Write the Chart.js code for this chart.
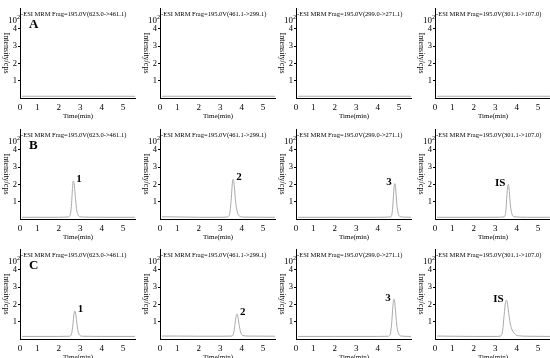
<!DOCTYPE html>
<html>
<head>
<meta charset="utf-8">
<script src="https://cdn.jsdelivr.net/npm/chart.js@4.4.0/dist/chart.umd.min.js"></script>
<style>
  html, body { margin: 0; padding: 0; background: #fff; overflow: hidden; }
  #wrap { position: relative; width: 550px; height: 358px; }
  .panel { position: absolute; }
</style>
</head>
<body>
<div id="wrap"></div>
<script>
// ---- data ----
const rowLetters = ["A", "B", "C"];
const transitions = ["623.0->461.1", "461.1->299.1", "299.0->271.1", "301.1->107.0"];
const xTickValues = [0.2, 1, 2, 3, 4, 5];
const xTickLabels = ["0", "1", "2", "3", "4", "5"];
const yTickValues = [1, 2, 3, 4];

// blank (row A)
const timesBlank = [0.3, 1.0, 2.0, 3.0, 4.0, 5.0, 5.55];
const intensBlank = [0.1, 0.1, 0.1, 0.1, 0.1, 0.1, 0.1];

// row B
const timesB1 = [0.3, 1.0, 2.0, 2.45, 2.55, 2.6, 2.64, 2.68, 2.72, 2.77, 2.83, 2.9, 3.0, 3.2, 4.0, 5.55];
const intensB1 = [0.1, 0.1, 0.1, 0.12, 0.3, 0.9, 1.7, 2.2, 2.05, 1.4, 0.6, 0.25, 0.13, 0.11, 0.1, 0.1];
const timesB2 = [0.3, 1.0, 2.0, 3.0, 3.35, 3.45, 3.52, 3.57, 3.61, 3.66, 3.72, 3.8, 3.9, 4.1, 5.0, 5.55];
const intensB2 = [0.13, 0.12, 0.1, 0.1, 0.12, 0.35, 1.2, 2.1, 2.3, 1.9, 1.0, 0.4, 0.17, 0.11, 0.1, 0.1];
const timesB3 = [0.3, 2.0, 4.0, 4.6, 4.68, 4.73, 4.77, 4.8, 4.84, 4.89, 4.95, 5.05, 5.2, 5.55];
const intensB3 = [0.1, 0.1, 0.1, 0.12, 0.4, 1.2, 1.9, 2.05, 1.75, 0.9, 0.35, 0.14, 0.11, 0.1];
const timesB4 = [0.3, 2.0, 3.0, 3.42, 3.5, 3.55, 3.59, 3.62, 3.66, 3.71, 3.78, 3.9, 4.5, 5.55];
const intensB4 = [0.1, 0.1, 0.1, 0.12, 0.5, 1.4, 1.95, 2.0, 1.6, 0.8, 0.3, 0.13, 0.1, 0.1];

// row C
const timesC1 = [0.3, 1.0, 2.0, 2.5, 2.6, 2.66, 2.71, 2.75, 2.79, 2.84, 2.9, 2.98, 3.1, 4.0, 5.55];
const intensC1 = [0.15, 0.15, 0.15, 0.16, 0.3, 0.8, 1.4, 1.62, 1.5, 1.0, 0.45, 0.22, 0.16, 0.15, 0.15];
const timesC2 = [0.3, 1.0, 2.0, 3.0, 3.55, 3.63, 3.69, 3.74, 3.78, 3.82, 3.88, 3.95, 4.05, 4.3, 5.55];
const intensC2 = [0.17, 0.17, 0.16, 0.16, 0.17, 0.35, 0.85, 1.3, 1.45, 1.35, 0.85, 0.4, 0.2, 0.17, 0.16];
const timesC3 = [0.3, 2.0, 4.0, 4.5, 4.6, 4.66, 4.71, 4.75, 4.79, 4.84, 4.9, 4.98, 5.1, 5.55];
const intensC3 = [0.15, 0.15, 0.15, 0.16, 0.35, 1.0, 1.9, 2.3, 2.2, 1.5, 0.7, 0.3, 0.17, 0.15];
const timesC4 = [0.3, 1.0, 2.0, 3.0, 3.25, 3.35, 3.42, 3.48, 3.53, 3.58, 3.64, 3.72, 3.82, 3.95, 4.15, 4.5, 5.55];
const intensC4 = [0.17, 0.16, 0.15, 0.15, 0.17, 0.5, 1.4, 2.1, 2.25, 2.0, 1.4, 0.8, 0.45, 0.25, 0.18, 0.16, 0.15];

const peakNames = ["1", "2", "3", "IS"];

const traces = [
  [[timesBlank, intensBlank], [timesBlank, intensBlank], [timesBlank, intensBlank], [timesBlank, intensBlank]],
  [[timesB1, intensB1], [timesB2, intensB2], [timesB3, intensB3], [timesB4, intensB4]],
  [[timesC1, intensC1], [timesC2, intensC2], [timesC3, intensC3], [timesC4, intensC4]]
];

// ---- layout ----
const FONT = '"Liberation Serif", "Times New Roman", serif';
const colLeft = [0, 140, 276, 415];
const rowTop = [2, 123, 243];
const panelW = 136, panelH = 118;
const labelSide = ["right", "right", "left", "left"];

const overlay = {
  id: "overlay",
  afterDraw(chart) {
    const o = chart.options.plugins.overlay;
    const ctx = chart.ctx, a = chart.chartArea;
    ctx.save();
    ctx.fillStyle = "#000";
    ctx.textBaseline = "middle";

    ctx.font = "6.5px " + FONT;
    ctx.textAlign = "left";
    ctx.fillText("-ESI MRM Frag=195.0V(" + o.transition + ")", a.left + 1, a.top + 6);

    ctx.font = "9px " + FONT;
    ctx.textAlign = "right";
    ctx.fillText("10", a.left - 3, a.top + 13);
    ctx.font = "6px " + FONT;
    ctx.textAlign = "left";
    ctx.fillText("2", a.left - 3, a.top + 9);

    ctx.save();
    ctx.translate(a.left - 14, (a.top + a.bottom) / 2);
    ctx.rotate(Math.PI / 2);
    ctx.font = "8px " + FONT;
    ctx.textAlign = "center";
    ctx.fillText("Intensity/cps", 0, 0);
    ctx.restore();

    if (o.letter) {
      ctx.font = "bold 13px " + FONT;
      ctx.textAlign = "left";
      ctx.fillText(o.letter, a.left + 9, a.top + 17);
    }

    if (o.peak) {
      const pts = chart.data.datasets[0].data;
      let top = pts[0];
      pts.forEach(p => { if (p.y > top.y) top = p; });
      const px = chart.scales.x.getPixelForValue(top.x);
      const py = chart.scales.y.getPixelForValue(top.y);
      ctx.font = "bold 11px " + FONT;
      if (o.side === "left") {
        ctx.textAlign = "right";
        ctx.fillText(o.peak, px - 3, py - 1);
      } else {
        ctx.textAlign = "left";
        ctx.fillText(o.peak, px + 3, py - 2);
      }
    }
    ctx.restore();
  }
};

const wrap = document.getElementById("wrap");

for (let r = 0; r < 3; r++) {
  for (let c = 0; c < 4; c++) {
    const cv = document.createElement("canvas");
    cv.className = "panel";
    cv.width = panelW;
    cv.height = panelH;
    cv.style.left = colLeft[c] + "px";
    cv.style.top = rowTop[r] + "px";
    cv.style.width = panelW + "px";
    cv.style.height = panelH + "px";
    wrap.appendChild(cv);

    const [ts, vs] = traces[r][c];
    const pts = ts.map((t, i) => ({ x: t, y: vs[i] }));

    new Chart(cv, {
      type: "line",
      data: {
        datasets: [{
          data: pts,
          borderColor: "#a9a9a9",
          borderWidth: 1,
          pointRadius: 0,
          fill: false,
          cubicInterpolationMode: "monotone"
        }]
      },
      options: {
        responsive: false,
        animation: false,
        devicePixelRatio: 1,
        layout: { padding: 0 },
        plugins: {
          legend: { display: false },
          tooltip: { enabled: false },
          overlay: {
            transition: transitions[c],
            letter: c === 0 ? rowLetters[r] : null,
            peak: r > 0 ? peakNames[c] : null,
            side: labelSide[c]
          }
        },
        scales: {
          x: {
            type: "linear",
            min: 0.2,
            max: 5.6,
            afterBuildTicks: s => { s.ticks = xTickValues.map(v => ({ value: v })); },
            afterFit: s => { s.height = 22; },
            ticks: {
              autoSkip: false,
              maxRotation: 0,
              padding: 4,
              color: "#000",
              font: { family: FONT, size: 9 },
              callback: (v, i) => xTickLabels[i]
            },
            grid: { display: false, drawTicks: false },
            border: { display: true, color: "#000", width: 1 },
            title: {
              display: true,
              text: "Time(min)",
              color: "#000",
              padding: 0,
              font: { family: FONT, size: 7 }
            }
          },
          y: {
            min: 0,
            max: 5.2,
            afterBuildTicks: s => { s.ticks = yTickValues.map(v => ({ value: v })); },
            afterFit: s => { s.width = 20; },
            ticks: {
              padding: 1,
              color: "#000",
              font: { family: FONT, size: 8.5 }
            },
            grid: { drawOnChartArea: false, drawTicks: true, tickLength: 2, color: "#000" },
            border: { display: true, color: "#000", width: 1 }
          }
        }
      },
      plugins: [overlay]
    });
  }
}
</script>
</body>
</html>
